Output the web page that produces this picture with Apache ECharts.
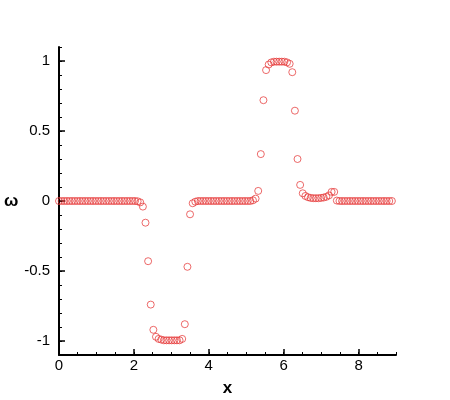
<!DOCTYPE html>
<html>
<head>
<meta charset="utf-8">
<script src="https://cdn.jsdelivr.net/npm/echarts@6/dist/echarts.min.js"></script>
<style>
  body { margin: 0; padding: 0; background: #fff; }
  #chart { width: 450px; height: 400px; }
</style>
</head>
<body>
<div id="chart"></div>
<script>
// sample positions along x
const xValues = [
  0, 0.07, 0.14, 0.21, 0.28, 0.35, 0.42, 0.49, 0.56, 0.63,
  0.70, 0.77, 0.84, 0.91, 0.98, 1.05, 1.12, 1.19, 1.26, 1.33,
  1.40, 1.47, 1.54, 1.61, 1.68, 1.75, 1.82, 1.89, 1.96, 2.03,
  2.10, 2.17, 2.24, 2.31, 2.38, 2.45, 2.52, 2.59, 2.66, 2.73,
  2.80, 2.87, 2.94, 3.01, 3.08, 3.15, 3.22, 3.29, 3.36, 3.43,
  3.50, 3.57, 3.64, 3.71, 3.78, 3.85, 3.92, 3.99, 4.06, 4.13,
  4.20, 4.27, 4.34, 4.41, 4.48, 4.55, 4.62, 4.69, 4.76, 4.83,
  4.90, 4.97, 5.04, 5.11, 5.18, 5.25, 5.32, 5.39, 5.46, 5.53,
  5.60, 5.67, 5.74, 5.81, 5.88, 5.95, 6.02, 6.09, 6.16, 6.23,
  6.30, 6.37, 6.44, 6.51, 6.58, 6.65, 6.72, 6.79, 6.86, 6.93,
  7.00, 7.07, 7.14, 7.21, 7.28, 7.35, 7.42, 7.49, 7.56, 7.63,
  7.70, 7.77, 7.84, 7.91, 7.98, 8.05, 8.12, 8.19, 8.26, 8.33,
  8.40, 8.47, 8.54, 8.61, 8.68, 8.75, 8.82, 8.89
]

// omega
const omegaValues = [
  0, 0, 0, 0, 0, 0, 0, 0, 0, 0,
  0, 0, 0, 0, 0, 0, 0, 0, 0, 0,
  0, 0, 0, 0, 0, 0, 0, 0, 0, 0,
  -0.002, -0.01, -0.04, -0.155, -0.43, -0.74, -0.92, -0.97, -0.985, -0.99,
  -0.995, -0.995, -0.995, -0.995, -0.995, -0.995, -0.995, -0.985, -0.88, -0.47,
  -0.095, -0.016, -0.005, 0, 0, 0, 0, 0, 0, 0,
  0, 0, 0, 0, 0, 0, 0, 0, 0, 0,
  0, 0, 0, 0, 0.005, 0.017, 0.072, 0.335, 0.72, 0.935,
  0.975, 0.99, 0.995, 0.995, 0.995, 0.995, 0.995, 0.99, 0.98, 0.92,
  0.645, 0.30, 0.115, 0.055, 0.036, 0.027, 0.022, 0.02, 0.02, 0.02,
  0.022, 0.025, 0.03, 0.04, 0.065, 0.065, 0.003, 0, 0, 0,
  0, 0, 0, 0, 0, 0, 0, 0, 0, 0,
  0, 0, 0, 0, 0, 0, 0, 0
]

const xTicks = [0, 2, 4, 6, 8]
const yTicks = [-1, -0.5, 0, 0.5, 1]

const font = 'Liberation Sans, Arial, sans-serif'
const chart = echarts.init(document.getElementById('chart'))

chart.setOption({
  animation: false,
  grid: { left: 59, right: 54, top: 47, bottom: 45, outerBoundsMode: 'none', containLabel: false },
  xAxis: [
    {
      type: 'value', min: 0, max: 9, interval: 1,
      name: 'x', nameLocation: 'middle', nameGap: 25,
      nameTextStyle: { fontSize: 17, fontWeight: 'bold', color: '#000', fontFamily: font },
      axisLine: { onZero: false, lineStyle: { color: '#000', width: 2 } },
      axisTick: { inside: true, length: 6, lineStyle: { color: '#000', width: 1.5 }, customValues: xTicks },
      axisLabel: { customValues: xTicks, color: '#000', fontSize: 15, fontFamily: font, margin: 3 },
      splitLine: { show: false }
    },
    {
      type: 'value', min: 0, max: 9, interval: 0.5, position: 'bottom',
      axisLine: { show: false, onZero: false },
      axisTick: { inside: true, length: 3, lineStyle: { color: '#000', width: 1 } },
      axisLabel: { show: false },
      splitLine: { show: false }
    }
  ],
  yAxis: [
    {
      type: 'value', min: -1.1, max: 1.1, interval: 0.1,
      name: 'ω', nameLocation: 'middle', nameGap: 34, nameRotate: 0,
      nameTextStyle: { fontSize: 17, fontWeight: 'bold', color: '#000', fontFamily: font },
      axisLine: { onZero: false, lineStyle: { color: '#000', width: 2 } },
      axisTick: { inside: true, length: 6, lineStyle: { color: '#000', width: 1.5 }, customValues: yTicks },
      axisLabel: { customValues: yTicks, color: '#000', fontSize: 15, fontFamily: font, margin: 9 },
      splitLine: { show: false }
    },
    {
      type: 'value', min: -1.1, max: 1.1, interval: 0.1, position: 'left',
      axisLine: { show: false, onZero: false },
      axisTick: { inside: true, length: 3, lineStyle: { color: '#000', width: 1 } },
      axisLabel: { show: false },
      splitLine: { show: false }
    }
  ],
  series: [
    {
      type: 'scatter',
      symbol: 'circle',
      symbolSize: 7,
      itemStyle: { color: 'rgba(0,0,0,0)', borderColor: '#e53030', borderWidth: 0.9 },
      data: xValues.map((x, i) => [x, omegaValues[i]])
    }
  ]
})
</script>
</body>
</html>
